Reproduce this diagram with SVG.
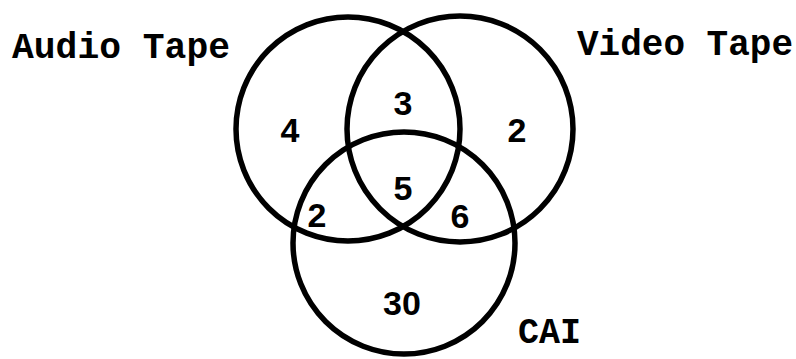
<svg xmlns="http://www.w3.org/2000/svg" width="796" height="359" viewBox="0 0 796 359">
<style>
.set{fill:none;stroke:#000;stroke-width:5.5}
.lbl{font-family:"Liberation Mono","Courier New",monospace;font-weight:bold;font-size:36px;fill:#000}
.num{font-family:"Liberation Sans",Arial,sans-serif;font-weight:bold;font-size:34px;fill:#000;text-anchor:middle}
</style>
<rect width="796" height="359" fill="#fff"/>
<g id="audio-tape">
<circle class="set" cx="348" cy="129" r="112"/>
<text class="lbl" x="12" y="58" textLength="218" lengthAdjust="spacingAndGlyphs">Audio Tape</text>
</g>
<g id="video-tape">
<circle class="set" cx="460" cy="129" r="113"/>
<text class="lbl" x="577" y="55" textLength="216" lengthAdjust="spacingAndGlyphs">Video Tape</text>
</g>
<g id="cai">
<circle class="set" cx="404" cy="243" r="111"/>
<text class="lbl" x="518" y="343" textLength="63" lengthAdjust="spacingAndGlyphs">CAI</text>
</g>
<g id="counts">
<text class="num" x="290" y="142">4</text>
<text class="num" x="403" y="115">3</text>
<text class="num" x="517" y="142">2</text>
<text class="num" x="403" y="200">5</text>
<text class="num" x="317" y="227">2</text>
<text class="num" x="460" y="228">6</text>
<text class="num" x="402" y="315">30</text>
</g>
</svg>
